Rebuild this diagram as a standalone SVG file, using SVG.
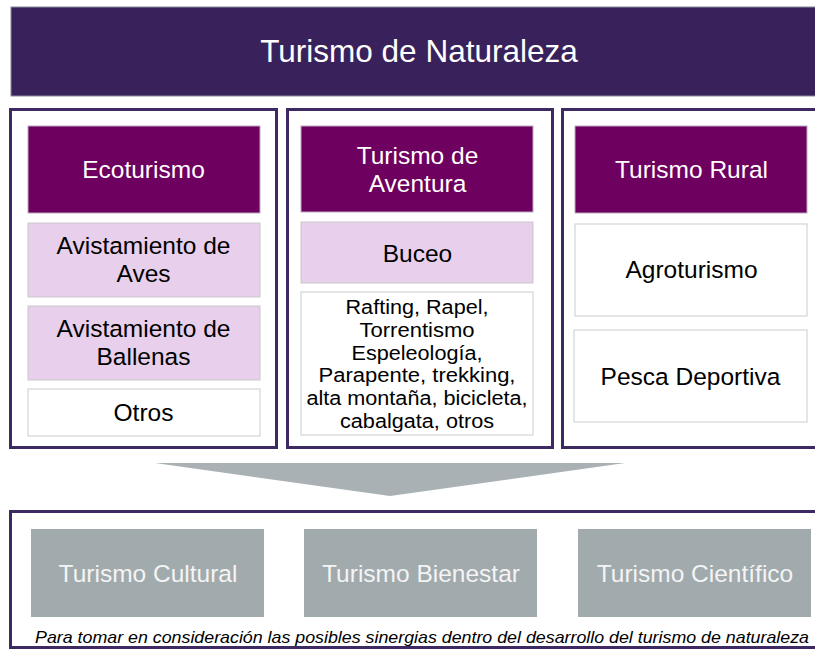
<svg xmlns="http://www.w3.org/2000/svg" width="815" height="650" viewBox="0 0 815 650">
<style>
text{font-family:"Liberation Sans",Arial,sans-serif;text-anchor:middle}
.frame{fill:#fff;stroke:#3d2a62;stroke-width:3}
.head{fill:#6e0060;stroke:#b9a9c0;stroke-width:1}
.lav{fill:#e8d0ec;stroke:#c8c8c8;stroke-width:1}
.wht{fill:#fff;stroke:#c8ccd0;stroke-width:1}
.grey{fill:#a1aaad}
.tw{fill:#fff;font-size:24.5px}
.tb{fill:#000;font-size:24.5px}
.ts{fill:#000;font-size:19.5px}
.tg{fill:#f4f4f4;font-size:24.5px}
</style>
<rect width="815" height="650" fill="#fff"/>
<g id="title">
<rect x="11" y="7" width="810" height="89" fill="#39225b" stroke="#8a8a9a" stroke-width="1"/>
<text x="419" y="62" class="tw" style="font-size:31.5px">Turismo de Naturaleza</text>
</g>
<g id="col-ecoturismo">
<rect class="frame" x="10.5" y="109.5" width="266" height="338"/>
<rect class="head" x="28" y="126" width="232" height="87"/>
<text class="tw" x="143.5" y="178">Ecoturismo</text>
<rect class="lav" x="28" y="223" width="232" height="74"/>
<text class="tb" x="143.5" y="254">Avistamiento de</text>
<text class="tb" x="143.5" y="282">Aves</text>
<rect class="lav" x="28" y="306" width="232" height="74"/>
<text class="tb" x="143.5" y="337">Avistamiento de</text>
<text class="tb" x="143.5" y="365">Ballenas</text>
<rect class="wht" x="28" y="389" width="232" height="47"/>
<text class="tb" x="143.5" y="421">Otros</text>
</g>
<g id="col-aventura">
<rect class="frame" x="287.5" y="109.5" width="265" height="338"/>
<rect class="head" x="301" y="126" width="232" height="86"/>
<text class="tw" x="417.5" y="164">Turismo de</text>
<text class="tw" x="417.5" y="192">Aventura</text>
<rect class="lav" x="301" y="222" width="232" height="61"/>
<text class="tb" x="417.5" y="262">Buceo</text>
<rect class="wht" x="301" y="292" width="232" height="143"/>
<text class="ts" x="417" y="314" textLength="143" lengthAdjust="spacingAndGlyphs">Rafting, Rapel,</text>
<text class="ts" x="417" y="336.8" textLength="115" lengthAdjust="spacingAndGlyphs">Torrentismo</text>
<text class="ts" x="417" y="359.6" textLength="131" lengthAdjust="spacingAndGlyphs">Espeleología,</text>
<text class="ts" x="417" y="382.4" textLength="197" lengthAdjust="spacingAndGlyphs">Parapente, trekking,</text>
<text class="ts" x="417" y="405.2" textLength="221" lengthAdjust="spacingAndGlyphs">alta montaña, bicicleta,</text>
<text class="ts" x="417" y="428" textLength="154" lengthAdjust="spacingAndGlyphs">cabalgata, otros</text>
</g>
<g id="col-rural">
<rect class="frame" x="562.5" y="109.5" width="270" height="338"/>
<rect class="head" x="575" y="126" width="232" height="87"/>
<text class="tw" x="691.5" y="178">Turismo Rural</text>
<rect class="wht" x="575" y="224" width="232" height="92"/>
<text class="tb" x="691.5" y="278">Agroturismo</text>
<rect class="wht" x="574" y="330" width="233" height="92"/>
<text class="tb" x="690.5" y="385">Pesca Deportiva</text>
</g>
<g id="connectors">
<polygon points="155,463 625,463 390,496" fill="#a9b1b4"/>
</g>
<g id="bottom">
<rect class="frame" x="10.5" y="511.5" width="820" height="136"/>
<rect class="grey" x="31" y="529" width="233" height="88"/>
<text class="tg" x="148" y="582">Turismo Cultural</text>
<rect class="grey" x="304" y="529" width="233" height="88"/>
<text class="tg" x="421" y="582">Turismo Bienestar</text>
<rect class="grey" x="578" y="529" width="233" height="88"/>
<text class="tg" x="695" y="582">Turismo Científico</text>
<text x="422" y="643" textLength="774" lengthAdjust="spacingAndGlyphs" style="font-size:17px;font-style:italic;fill:#000">Para tomar en consideración las posibles sinergias dentro del desarrollo del turismo de naturaleza</text>
</g>
</svg>
